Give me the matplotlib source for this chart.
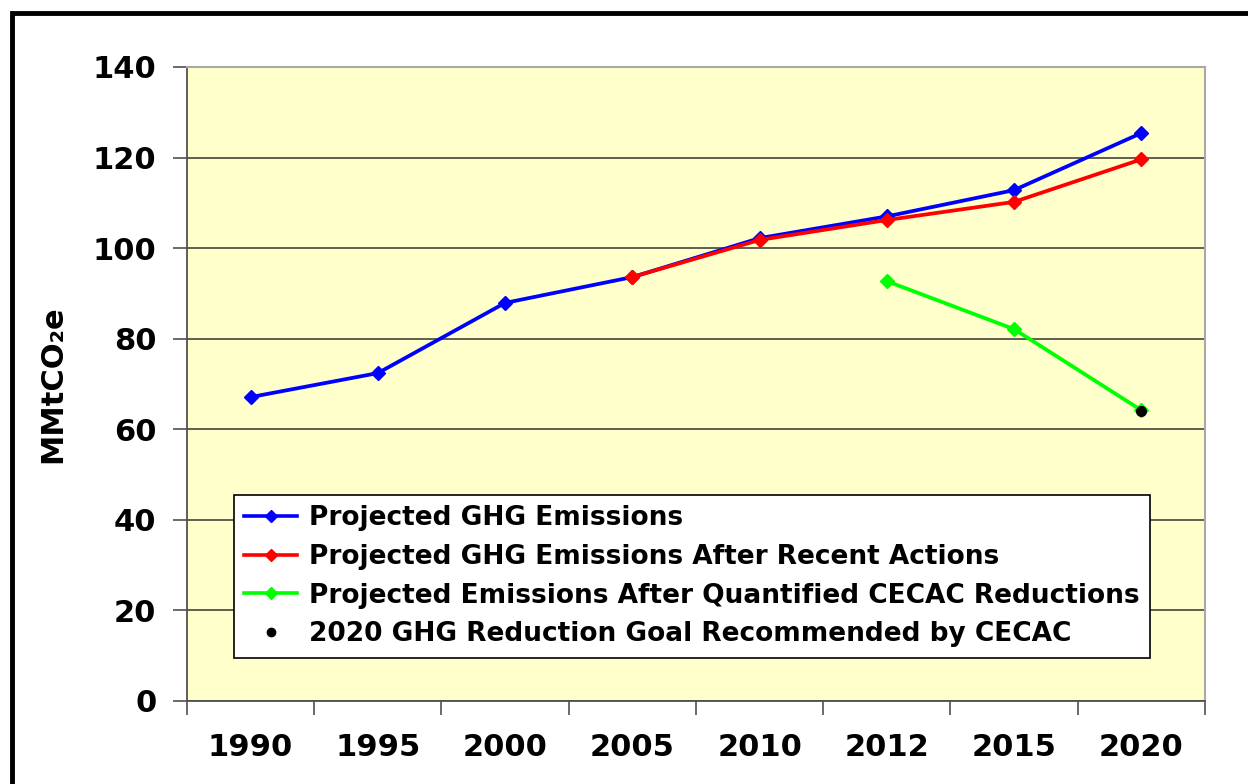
"""
Projected GHG emissions line chart (Excel-style categorical x axis).
"""

import matplotlib.pyplot as plt
from matplotlib.patches import Rectangle

years = ["1990", "1995", "2000", "2005", "2010", "2012", "2015", "2020"]
projected = [67.1, 72.4, 87.9, 93.6, 102.2, 107.0, 112.8, 125.4]
after_actions = [None, None, None, 93.6, 101.8, 106.2, 110.2, 119.6]
after_cecac = [None, None, None, None, None, 92.7, 82.1, 64.2]
goal_2020 = 64.0

y_ticks = [0, 20, 40, 60, 80, 100, 120, 140]


def series_points(values):
  xs = [i for i, v in enumerate(values) if v is not None]
  ys = [v for v in values if v is not None]
  return xs, ys


def main():
  fig = plt.figure(figsize=(12.48, 7.84), dpi=100)
  ax = fig.add_axes([0.1498, 0.1059, 0.8157, 0.8087])
  ax.set_facecolor("#FFFFCC")

  # Black frame around the whole chart (runs off the right/bottom edges)
  fig.patches.append(Rectangle((12 / 1248, -0.05), 1.2, (784 - 13) / 784 + 0.05,
                               transform=fig.transFigure, fill=False,
                               edgecolor="black", linewidth=3.5, zorder=0))

  line_kw = dict(linewidth=2.7, marker="D", markersize=7.5)
  xs, ys = series_points(projected)
  ax.plot(xs, ys, color="#0000FF", label="Projected GHG Emissions", zorder=3, **line_kw)
  xs, ys = series_points(after_actions)
  ax.plot(xs, ys, color="#FF0000", label="Projected GHG Emissions After Recent Actions",
          zorder=4, **line_kw)
  xs, ys = series_points(after_cecac)
  ax.plot(xs, ys, color="#00FF00", label="Projected Emissions After Quantified CECAC Reductions",
          zorder=4, **line_kw)
  ax.plot([years.index("2020")], [goal_2020], linestyle="none", marker="o", markersize=7,
          color="black", label="2020 GHG Reduction Goal Recommended by CECAC", zorder=5)

  ax.set_xlim(-0.5, len(years) - 0.5)
  ax.set_ylim(0, 140)
  ax.set_yticks(y_ticks)
  ax.set_yticklabels([str(t) for t in y_ticks], fontsize=22, fontweight="bold")
  ax.set_xticks(range(len(years)))
  ax.set_xticklabels(years, fontsize=22, fontweight="bold")
  ax.set_xticks([i - 0.5 for i in range(len(years) + 1)], minor=True)
  ax.tick_params(axis="x", which="major", length=0, pad=23)
  ax.tick_params(axis="x", which="minor", length=10, width=1.2, color="#505050")
  ax.tick_params(axis="y", length=10, width=1.2, color="#505050", pad=12)

  ax.grid(axis="y", color="#505048", linewidth=1.3)
  ax.set_axisbelow(True)

  for side in ("left", "bottom"):
    ax.spines[side].set_color("#505050")
    ax.spines[side].set_linewidth(1.3)
  for side in ("top", "right"):
    ax.spines[side].set_color("#A8A8A8")
    ax.spines[side].set_linewidth(1.5)

  ax.set_ylabel("MMtCO\u2082e", fontsize=22, fontweight="bold", labelpad=18)

  leg = ax.legend(loc="lower left", bbox_to_anchor=(0.046, 0.068), fancybox=False,
                  edgecolor="black", framealpha=1, prop={"size": 19, "weight": "bold"},
                  handlelength=2.0, handletextpad=0.45, labelspacing=0.48,
                  borderpad=0.4, borderaxespad=0)
  leg.get_frame().set_linewidth(1.2)
  for handle in leg.legend_handles:
    handle.set_markersize(6)
    handle.set_linewidth(2.6)

  fig.savefig("out.png", dpi=100)


if __name__ == "__main__":
  main()
